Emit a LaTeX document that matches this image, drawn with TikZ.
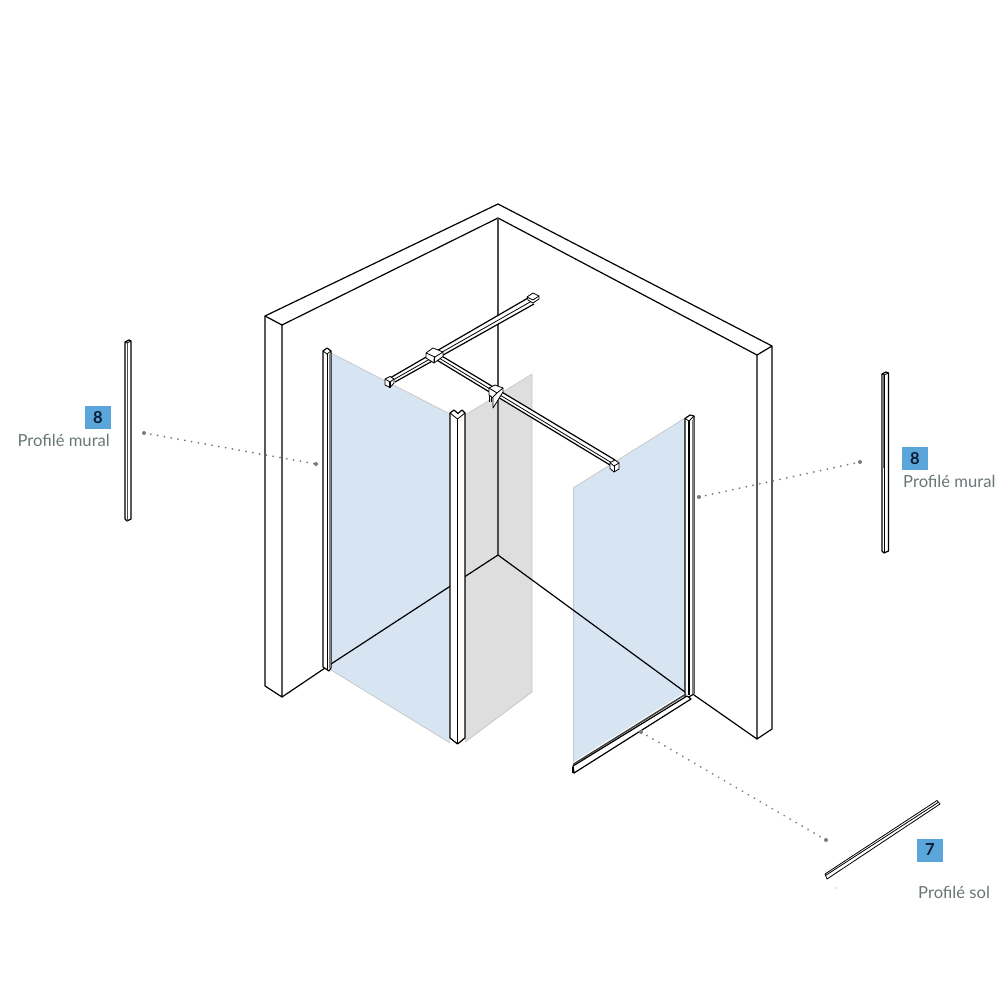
\documentclass[tikz,border=0pt]{standalone}
\usepackage{fontspec}
\setmainfont{Lato}
\definecolor{glassblue}{HTML}{D7E4F1}
\definecolor{glassgray}{HTML}{DEDEDE}
\definecolor{badge}{HTML}{5AA5DA}
\definecolor{labelgray}{HTML}{6A7777}
\definecolor{badgetext}{HTML}{0B1A33}
\definecolor{dotgray}{HTML}{7A7A7A}
\tikzset{
  ink/.style={line width=1.2pt,line join=round,draw=black},
  thin ink/.style={line width=0.8pt,line join=round,draw=black},
  fillw/.style={ink,fill=white},
  fillt/.style={thin ink,fill=white},
  badgebox/.style={fill=badge,minimum width=26pt,minimum height=23pt,inner sep=0pt,text=badgetext,font=\fontsize{16.5}{16}\selectfont\bfseries},
  caption/.style={text=labelgray,inner sep=0pt,font=\fontsize{16.6}{17}\selectfont},
  leader/.style={draw=dotgray,line width=2pt,line cap=round,dash pattern=on 0.01pt off 6.9pt},
  leaderend/.style={fill=dotgray,circle,inner sep=0pt,minimum size=4pt},
}
\begin{document}
\begin{tikzpicture}[x=1pt,y=-1pt]
\useasboundingbox (0,0) rectangle (1000,1000);
\fill[white] (0,0) rectangle (1000,1000);
% glass
\fill[glassgray] (465,415) -- (532,374) -- (532,692) -- (465,742) -- cycle;
\draw[gray!45,line width=0.8pt] (532,374) -- (532,692) -- (465,742);
\draw[gray!45,line width=0.6pt] (465,415) -- (532,374);
\fill[glassblue] (331,353) -- (450,414) -- (450,743) -- (331,670) -- cycle;
\draw[gray!45,line width=0.7pt] (331,353) -- (450,414);
\draw[gray!45,line width=0.7pt] (331,670) -- (450,743);
\fill[glassblue] (573,488) -- (685,418) -- (685,692) -- (573,762) -- cycle;
\draw[gray!45,line width=0.7pt] (573,488) -- (685,418);
\draw[gray!45,line width=0.7pt] (573,488) -- (573,762);
% walls
\draw[ink] (265,686) -- (265,316) -- (498,204) -- (772,346) -- (772,729) -- (757,739) -- (757,355) -- (772,346);
\draw[ink] (265,316) -- (282,325) -- (282,697) -- (265,686);
\draw[ink] (282,325) -- (498,218) -- (757,355);
\draw[ink,draw=black!70] (498,218) -- (498,555);
\draw[ink] (282,697) -- (331,664) (331,664) -- (498,555) -- (685,692);
\draw[ink] (694,695) -- (757,739);
% left profile
\filldraw[fillw] (323,351) -- (327,348) -- (331,351) -- (331,668) -- (329,671) -- (323,667) -- cycle;
\draw[thin ink] (323,351) -- (327,354) -- (331,351);
\draw[line width=1.4pt,draw=black!50] (330,354) -- (330,668);
\draw[thin ink] (327,354) -- (327,670);
% post
\filldraw[fillw] (450,413) -- (454,410) -- (458,413.5) -- (462,410) -- (465,413) -- (465,738) -- (457.5,744) -- (450,738) -- cycle;
\draw[thin ink] (450,413) -- (457.5,419) -- (465,413);
\draw[ink] (457.5,419) -- (457.5,744);
% right profile
\filldraw[fillw] (685,418.5) -- (690,415) -- (694,416) -- (694,694) -- (685,699) -- cycle;
\draw[thin ink] (685,418.5) -- (689,421) -- (694,416);
\draw[ink] (689,421) -- (689,695);
\draw[line width=1.2pt,draw=black!50] (693,420) -- (693,694);
% floor rail
\filldraw[fillw] (573,766) -- (687,696) -- (691,699) -- (574,773) -- cycle;
\draw[line width=1.5pt,draw=black!75] (573,764.5) -- (686,694);
\draw[ink] (573,767) -- (573,773);
% bar 1 (rear wall to left glass)
\fill[white] (390,378) -- (528,298) -- (534,304) -- (395,382) -- cycle;
\draw[ink] (390,378) -- (528,298);
\draw[ink] (395,382) -- (534,304);
\draw[thin ink] (393,380) -- (531,301.5);
\filldraw[fillt] (527,297) -- (533,293) -- (539,296) -- (539,299) -- (533,303) -- (528,300) -- cycle;
\draw[thin ink] (527,297) -- (533,300) -- (539,296);
\filldraw[fillt] (385,379) -- (390,376.5) -- (394,379) -- (394,383) -- (390,387.5) -- (385,385) -- cycle;
\draw[thin ink] (385,379) -- (390,382) -- (394,379);
\draw[ink] (390,382) -- (390,387.5);
% bar 2 (junction to right glass)
\fill[white] (441.7,356) -- (615,460) -- (610,465) -- (436.7,360) -- cycle;
\draw[ink] (441.7,356) -- (615,460);
\draw[ink] (436.7,360) -- (610,465);
\draw[thin ink] (439,358) -- (612,463);
% clamps
\filldraw[fillt] (426,353) -- (433,348) -- (443,352) -- (443,356.5) -- (434,363) -- (426,358) -- cycle;
\draw[thin ink] (426,353) -- (435,357) -- (443,352);
\draw[ink] (434.5,357) -- (434,363);
\filldraw[fillt] (489,388) -- (495,385) -- (503,388) -- (503,392) -- (493,408) -- (493,398) -- (489,395) -- cycle;
\draw[thin ink] (489,388) -- (497,393) -- (503,388) (497,393) -- (493,397);
\draw[thin ink] (489,395) -- (489,402) (491,397) -- (491,402);
\filldraw[fillt] (610,462.7) -- (615,460) -- (619,463) -- (619,469) -- (614,472) -- (610,468.5) -- cycle;
\draw[thin ink] (610,462.7) -- (614,466) -- (619,463);
\draw[thin ink] (614,466) -- (614,472);
% loose profiles
\filldraw[fillw] (125,342) -- (129,340) -- (131,341) -- (131,519) -- (127,521) -- (125,519) -- cycle;
\draw[thin ink] (125,342) -- (127,343) -- (131,341);
\draw[thin ink,draw=black!70] (127,343) -- (127,521);
\filldraw[fillw] (882,374) -- (886,372) -- (888.5,373) -- (888.5,551) -- (884,553) -- (882,551) -- cycle;
\draw[thin ink] (882,374) -- (884,375) -- (888.5,373);
\draw[line width=1.8pt,draw=black!55] (883,375) -- (883,468);
\draw[thin ink] (884,375) -- (884,553);
\filldraw[fillt] (825,874) -- (937,800.5) -- (940,804) -- (827,879) -- cycle;
\draw[thin ink] (825.5,875.5) -- (938,802.5);
% leaders
\coordinate (a1) at (144,433); \coordinate (a2) at (316,464);
\coordinate (b1) at (699,497); \coordinate (b2) at (860,462);
\coordinate (c1) at (641,732); \coordinate (c2) at (826,840);
\draw[leader] (a1) -- (a2);
\draw[leader] (b1) -- (b2);
\draw[leader] (c1) -- (c2);
\node[leaderend] at (a1) {}; \node[leaderend] at (a2) {};
\node[leaderend] at (b1) {}; \node[leaderend] at (b2) {};
\node[leaderend] at (c1) {}; \node[leaderend] at (c2) {};
\fill[gray!80] (836,888) circle (0.6pt);
% labels
\node[badgebox] (n8a) at (98,417.5) {8};
\node[caption,anchor=base east] (t8a) at (110,446.5) {Profilé mural};
\node[badgebox] (n8b) at (915,458.5) {8};
\node[caption,anchor=base west] (t8b) at (903,487.5) {Profilé mural};
\node[badgebox] (n7) at (930,850) {7};
\node[caption,anchor=base west] (t7) at (918,898.5) {Profilé sol};
\end{tikzpicture}
\end{document}
